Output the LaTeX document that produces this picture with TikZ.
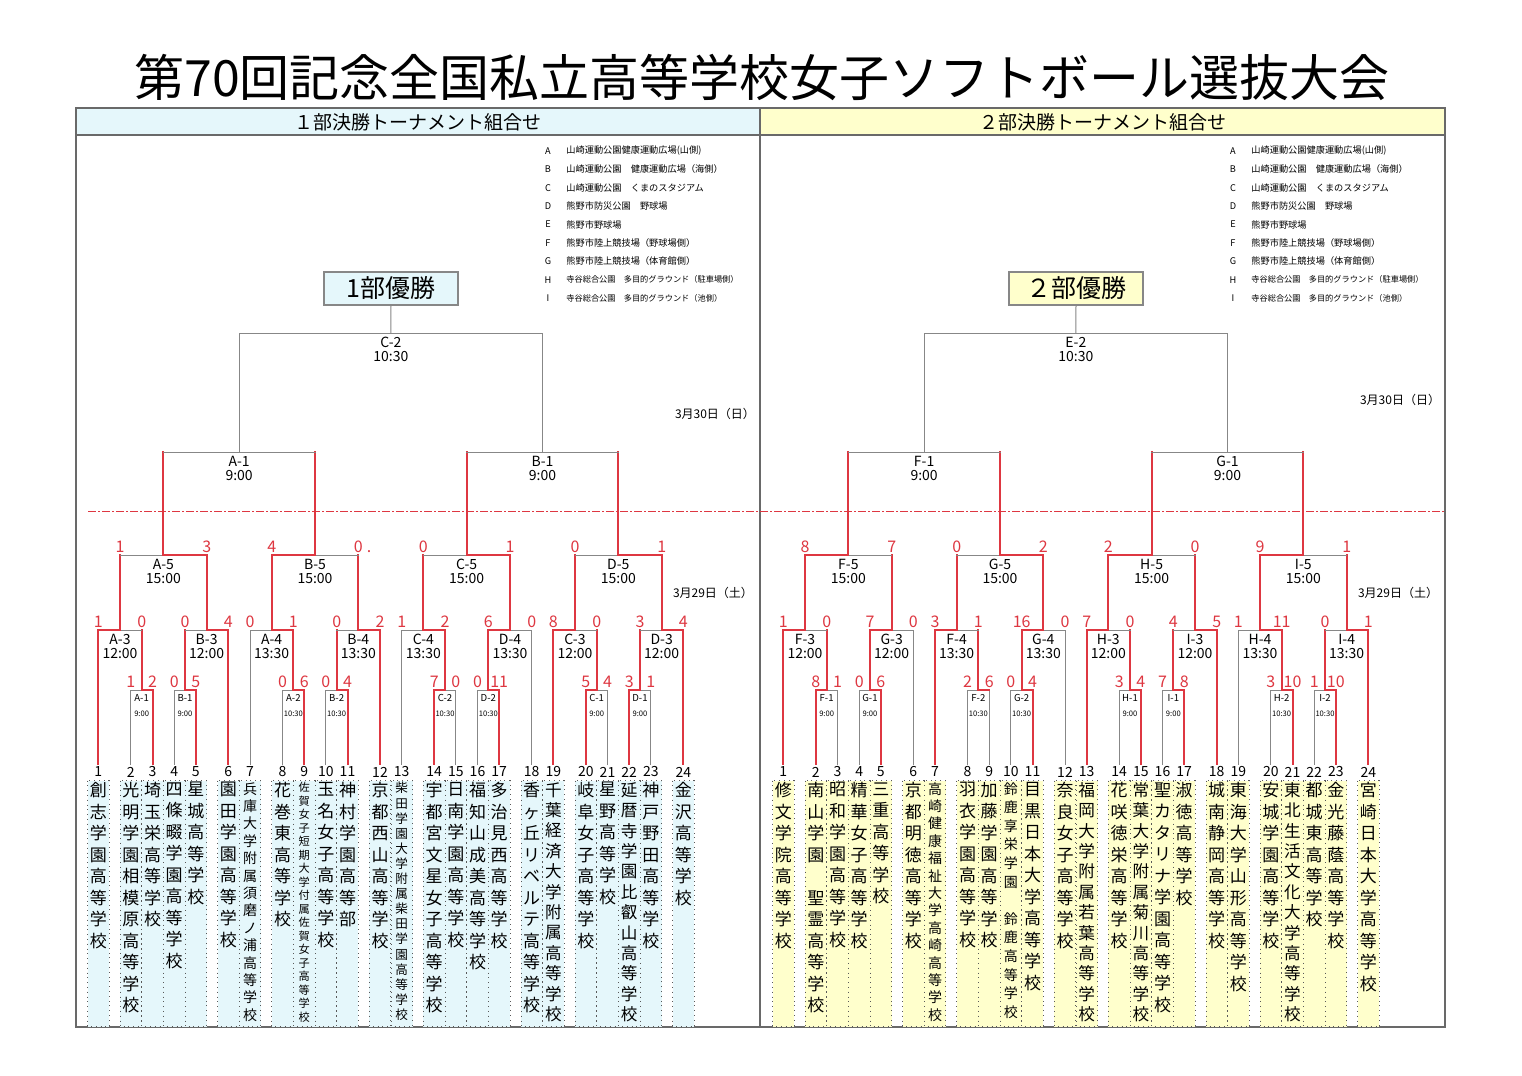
\documentclass[tikz,border=0pt]{standalone}
\usepackage{fontspec}
\setmainfont{Noto Sans CJK JP}
\usetikzlibrary{calc}

\definecolor{winred}{RGB}{222,55,65}
\definecolor{losegray}{RGB}{135,135,135}
\definecolor{framegray}{RGB}{105,105,105}
\definecolor{headblue}{RGB}{229,247,251}
\definecolor{headyellow}{RGB}{255,255,204}
\colorlet{panel}{headblue}

\tikzset{
  win/.style={draw=winred, line width=1pt, line cap=rect},
  lose/.style={draw=losegray, line width=0.5pt, line cap=rect},
  score/.style={text=winred, font=\fontsize{8}{8}\selectfont, inner sep=0pt, anchor=base},
  slot/.style={font=\fontsize{7}{7}\selectfont, inner sep=0pt},
  minislot/.style={font=\fontsize{4.8}{5}\selectfont, inner sep=0pt},
  minitime/.style={font=\fontsize{3.8}{4}\selectfont, inner sep=0pt},
  namebox/.style={draw=black!65, dotted, line width=0.4pt, fill=panel},
  numlbl/.style={font=\fontsize{7}{7}\selectfont, inner sep=0pt},
  head/.style={font=\fontsize{9.5}{10}\selectfont, inner sep=0pt},
  champ/.style={draw=losegray, line width=0.6pt, fill=panel, font=\fontsize{12.5}{13}\selectfont,
    inner sep=0pt, minimum width=67pt, minimum height=16.5pt},
  datelbl/.style={font=\fontsize{6}{6}\selectfont, inner sep=0pt},
}

% vertical school names, one glyph per line
\makeatletter
\newcommand\tate[3]{\fontsize{#1}{#2}\selectfont\vbox{\@tfor\tchr:=#3\do{\hbox to #1pt{\hss\tchr\hss}}}}
\makeatother
\newcommand\teamx[5]{%
  \draw[namebox] (#1-10.8,780.5) rectangle (#1+10.8,1026.5);
  \node[numlbl] (n#2) at (#1,772) {#2};
  \node[inner sep=0pt, anchor=north] (s#2) at (#1,782) {\tate{#3}{#4}{#5}};}
\newcommand\team[3]{\teamx{#1}{#2}{8.5}{10.75}{#3}}

% bracket bar: xl, xr, y, name, time, score l, score r, style l, style r
\newcommand\duel[9]{%
  \draw[#8] (#1,#3) -- ({(#1+#2)/2},#3);
  \draw[#9] ({(#1+#2)/2},#3) -- (#2,#3);
  \node[score] at (#1,#3-2.5) {#6};
  \node[score] at (#2,#3-2.5) {#7};
  \node[slot] at ({(#1+#2)/2},#3+9) {#4};
  \node[slot] at ({(#1+#2)/2},#3+23.5) {#5};}
% first round box at y=690
\newcommand\prelim[8]{%
  \draw[#7] (#1,690) -- ({(#1+#2)/2},690);
  \draw[#8] ({(#1+#2)/2},690) -- (#2,690);
  \node[score] at (#1,687.5) {#5};
  \node[score] at (#2,687.5) {#6};
  \node[minislot] at ({(#1+#2)/2},698) {#3};
  \node[minitime] at ({(#1+#2)/2},714) {#4};}

\newcommand\venues{%
  \foreach \y/\k/\s/\t in {151/A/4.6/山崎運動公園健康運動広場(山側),
      169.4/B/4.6/山崎運動公園　健康運動広場（海側）,
      187.8/C/4.6/山崎運動公園　くまのスタジアム,
      206.2/D/4.6/熊野市防災公園　野球場,
      224.6/E/4.6/熊野市野球場,
      243/F/4.6/熊野市陸上競技場（野球場側）,
      261.4/G/4.6/熊野市陸上競技場（体育館側）,
      279.8/H/4.1/寺谷総合公園　多目的グラウンド（駐車場側）,
      298.2/I/4.1/寺谷総合公園　多目的グラウンド（池側）}{
    \node[font=\fontsize{4.6}{5}\selectfont, inner sep=0pt] at (548,\y) {\k};
    \node[font=\fontsize{\s}{5}\selectfont, inner sep=0pt, anchor=west] at (566,\y) {\t};
  }}

\begin{document}
\begin{tikzpicture}[x=0.5pt,y=-0.5pt]
  \useasboundingbox (0,0) rectangle (1522,1076);
  \fill[white] (0,0) rectangle (1522,1076);

  %%%%% TITLE AND FRAME %%%%%
  \node[font=\fontsize{25}{25}\selectfont, inner sep=0pt] (title) at (762,78) {第70回記念全国私立高等学校女子ソフトボール選抜大会};

  \fill[headblue] (76,108) rectangle (760,135);
  \fill[headyellow] (760,108) rectangle (1445,135);
  \draw[framegray, line width=0.6pt] (76,108) rectangle (1445,1027);
  \draw[framegray, line width=0.6pt] (76,135) -- (1445,135);
  \draw[framegray, line width=0.6pt] (760,108) -- (760,1027);
  \node[head] (head1) at (418,122) {１部決勝トーナメント組合せ};
  \node[head] (head2) at (1103,122) {２部決勝トーナメント組合せ};

  \draw[winred, line width=0.4pt, dash pattern=on 4pt off 1.2pt on 0.6pt off 1.2pt] (88,511) -- (1445,511);

  %%%%% 1部 %%%%%
  \begin{scope}
    \colorlet{panel}{headblue}
    \venues
    \node[datelbl] (day1a) at (715,414) {3月30日（日）};
    \node[datelbl] (day1b) at (713,593) {3月29日（土）};

    % schools
    \team{98.3}{1}{創志学園高等学校}
    \team{130.8}{2}{光明学園相模原高等学校}
    \team{152.5}{3}{埼玉栄高等学校}
    \team{174.2}{4}{四條畷学園高等学校}
    \team{195.8}{5}{星城高等学校}
    \team{228.3}{6}{園田学園高等学校}
    \teamx{250.0}{7}{7}{8.7}{兵庫大学附属須磨ノ浦高等学校}
    \team{282.5}{8}{花巻東高等学校}
    \teamx{304.2}{9}{5.6}{6.75}{佐賀女子短期大学付属佐賀女子高等学校}
    \team{325.8}{10}{玉名女子高等学校}
    \team{347.5}{11}{神村学園高等部}
    \team{380.0}{12}{京都西山高等学校}
    \teamx{401.7}{13}{6.3}{7.55}{柴田学園大学附属柴田学園高等学校}
    \team{434.2}{14}{宇都宮文星女子高等学校}
    \team{455.8}{15}{日南学園高等学校}
    \team{477.5}{16}{福知山成美高等学校}
    \team{499.2}{17}{多治見西高等学校}
    \team{531.7}{18}{香ヶ丘リベルテ高等学校}
    \teamx{553.3}{19}{8.3}{10.2}{千葉経済大学附属高等学校}
    \team{585.8}{20}{岐阜女子高等学校}
    \team{607.5}{21}{星野高等学校}
    \teamx{629.2}{22}{8.3}{10.2}{延暦寺学園比叡山高等学校}
    \team{650.8}{23}{神戸野田高等学校}
    \team{683.3}{24}{金沢高等学校}

    % leaves
    \draw[win] (98.3,764) -- (98.3,630);
    \draw[lose] (130.8,764) -- (130.8,690);
    \draw[win] (152.5,764) -- (152.5,690);
    \draw[lose] (174.2,764) -- (174.2,690);
    \draw[win] (195.8,764) -- (195.8,690);
    \draw[win] (228.3,764) -- (228.3,630);
    \draw[lose] (250.0,764) -- (250.0,630);
    \draw[lose] (282.5,764) -- (282.5,690);
    \draw[win] (304.2,764) -- (304.2,690);
    \draw[lose] (325.8,764) -- (325.8,690);
    \draw[win] (347.5,764) -- (347.5,690);
    \draw[win] (380.0,764) -- (380.0,630);
    \draw[lose] (401.7,764) -- (401.7,630);
    \draw[win] (434.2,764) -- (434.2,690);
    \draw[lose] (455.8,764) -- (455.8,690);
    \draw[lose] (477.5,764) -- (477.5,690);
    \draw[win] (499.2,764) -- (499.2,690);
    \draw[lose] (531.7,764) -- (531.7,630);
    \draw[win] (553.3,764) -- (553.3,630);
    \draw[win] (585.8,764) -- (585.8,690);
    \draw[lose] (607.5,764) -- (607.5,690);
    \draw[win] (629.2,764) -- (629.2,690);
    \draw[lose] (650.8,764) -- (650.8,690);
    \draw[win] (683.3,764) -- (683.3,630);

    % first round
    \prelim{130.8}{152.5}{A-1}{9:00}{1}{2}{lose}{win}
    \prelim{174.2}{195.8}{B-1}{9:00}{0}{5}{lose}{win}
    \prelim{282.5}{304.2}{A-2}{10:30}{0}{6}{lose}{win}
    \prelim{325.8}{347.5}{B-2}{10:30}{0}{4}{lose}{win}
    \prelim{434.2}{455.8}{C-2}{10:30}{7}{0}{win}{lose}
    \prelim{477.5}{499.2}{D-2}{10:30}{0}{11}{lose}{win}
    \prelim{585.8}{607.5}{C-1}{9:00}{5}{4}{win}{lose}
    \prelim{629.2}{650.8}{D-1}{9:00}{3}{1}{win}{lose}
    \draw[win] (141.7,690) -- (141.7,630);
    \draw[win] (185.0,690) -- (185.0,630);
    \draw[win] (293.3,690) -- (293.3,630);
    \draw[win] (336.7,690) -- (336.7,630);
    \draw[win] (445.0,690) -- (445.0,630);
    \draw[win] (488.3,690) -- (488.3,630);
    \draw[win] (596.7,690) -- (596.7,630);
    \draw[win] (640.0,690) -- (640.0,630);

    % second round
    \duel{98.3}{141.7}{630}{A-3}{12:00}{1}{0}{win}{lose}
    \duel{185.0}{228.3}{630}{B-3}{12:00}{0}{4}{lose}{win}
    \duel{250.0}{293.3}{630}{A-4}{13:30}{0}{1}{lose}{win}
    \duel{336.7}{380.0}{630}{B-4}{13:30}{0}{2}{lose}{win}
    \duel{401.7}{445.0}{630}{C-4}{13:30}{1}{2}{lose}{win}
    \duel{488.3}{531.7}{630}{D-4}{13:30}{6}{0}{win}{lose}
    \duel{553.3}{596.7}{630}{C-3}{12:00}{8}{0}{win}{lose}
    \duel{640.0}{683.3}{630}{D-3}{12:00}{3}{4}{lose}{win}
    \draw[win] (120.0,630) -- (120.0,555);
    \draw[win] (206.7,630) -- (206.7,555);
    \draw[win] (271.7,630) -- (271.7,555);
    \draw[win] (358.3,630) -- (358.3,555);
    \draw[win] (423.3,630) -- (423.3,555);
    \draw[win] (510.0,630) -- (510.0,555);
    \draw[win] (575.0,630) -- (575.0,555);
    \draw[win] (661.7,630) -- (661.7,555);

    % third round
    \duel{120.0}{206.7}{555}{A-5}{15:00}{1}{3}{lose}{win}
    \duel{271.7}{358.3}{555}{B-5}{15:00}{4}{0}{win}{lose}
    \node[score] at (369,552.5) {.};
    \duel{423.3}{510.0}{555}{C-5}{15:00}{0}{1}{lose}{win}
    \duel{575.0}{661.7}{555}{D-5}{15:00}{0}{1}{lose}{win}
    \draw[win] (163.3,555) -- (163.3,452);
    \draw[win] (315.0,555) -- (315.0,452);
    \draw[win] (466.7,555) -- (466.7,452);
    \draw[win] (618.3,555) -- (618.3,452);

    % second day
    \duel{163.3}{315.0}{452}{A-1}{9:00}{}{}{lose}{lose}
    \duel{466.7}{618.3}{452}{B-1}{9:00}{}{}{lose}{lose}
    \draw[lose] (239.2,452) -- (239.2,333);
    \draw[lose] (542.5,452) -- (542.5,333);
    \duel{239.2}{542.5}{333}{C-2}{10:30}{}{}{lose}{lose}
    \node[champ] (cup1) at (391,288.5) {1部優勝};
    \draw[lose] (390.8,333) -- (cup1.south);
  \end{scope}

  %%%%% 2部 %%%%%
  \begin{scope}[shift={(685,0)}]
    \colorlet{panel}{headyellow}
    \venues
    \node[datelbl] (day2a) at (715,400) {3月30日（日）};
    \node[datelbl] (day2b) at (713,593) {3月29日（土）};

    % schools
    \team{98.3}{1}{修文学院高等学校}
    \team{130.8}{2}{南山学園{}聖霊高等学校}
    \team{152.5}{3}{昭和学園高等学校}
    \team{174.2}{4}{精華女子高等学校}
    \team{195.8}{5}{三重高等学校}
    \team{228.3}{6}{京都明徳高等学校}
    \teamx{250.0}{7}{7}{8.7}{高崎健康福祉大学高崎高等学校}
    \team{282.5}{8}{羽衣学園高等学校}
    \team{304.2}{9}{加藤学園高等学校}
    \teamx{325.8}{10}{7}{9.3}{鈴鹿享栄学園{}鈴鹿高等学校}
    \team{347.5}{11}{目黒日本大学高等学校}
    \team{380.0}{12}{奈良女子高等学校}
    \teamx{401.7}{13}{8.3}{10.2}{福岡大学附属若葉高等学校}
    \team{434.2}{14}{花咲徳栄高等学校}
    \teamx{455.8}{15}{8.3}{10.2}{常葉大学附属菊川高等学校}
    \team{477.5}{16}{聖カタリナ学園高等学校}
    \team{499.2}{17}{淑徳高等学校}
    \team{531.7}{18}{城南静岡高等学校}
    \team{553.3}{19}{東海大学山形高等学校}
    \team{585.8}{20}{安城学園高等学校}
    \teamx{607.5}{21}{8.3}{10.2}{東北生活文化大学高等学校}
    \team{629.2}{22}{都城東高等学校}
    \team{650.8}{23}{金光藤蔭高等学校}
    \team{683.3}{24}{宮崎日本大学高等学校}

    % leaves
    \draw[win] (98.3,764) -- (98.3,630);
    \draw[win] (130.8,764) -- (130.8,690);
    \draw[lose] (152.5,764) -- (152.5,690);
    \draw[lose] (174.2,764) -- (174.2,690);
    \draw[win] (195.8,764) -- (195.8,690);
    \draw[lose] (228.3,764) -- (228.3,630);
    \draw[win] (250.0,764) -- (250.0,630);
    \draw[lose] (282.5,764) -- (282.5,690);
    \draw[lose] (304.2,764) -- (304.2,690);
    \draw[lose] (325.8,764) -- (325.8,690);
    \draw[win] (347.5,764) -- (347.5,690);
    \draw[lose] (380.0,764) -- (380.0,630);
    \draw[win] (401.7,764) -- (401.7,630);
    \draw[lose] (434.2,764) -- (434.2,690);
    \draw[win] (455.8,764) -- (455.8,690);
    \draw[lose] (477.5,764) -- (477.5,690);
    \draw[win] (499.2,764) -- (499.2,690);
    \draw[win] (531.7,764) -- (531.7,630);
    \draw[lose] (553.3,764) -- (553.3,630);
    \draw[lose] (585.8,764) -- (585.8,690);
    \draw[win] (607.5,764) -- (607.5,690);
    \draw[lose] (629.2,764) -- (629.2,690);
    \draw[win] (650.8,764) -- (650.8,690);
    \draw[win] (683.3,764) -- (683.3,630);

    % first round
    \prelim{130.8}{152.5}{F-1}{9:00}{8}{1}{win}{lose}
    \prelim{174.2}{195.8}{G-1}{9:00}{0}{6}{lose}{win}
    \prelim{282.5}{304.2}{F-2}{10:30}{2}{6}{lose}{win}
    \prelim{325.8}{347.5}{G-2}{10:30}{0}{4}{lose}{win}
    \prelim{434.2}{455.8}{H-1}{9:00}{3}{4}{lose}{win}
    \prelim{477.5}{499.2}{I-1}{9:00}{7}{8}{lose}{win}
    \prelim{585.8}{607.5}{H-2}{10:30}{3}{10}{lose}{win}
    \prelim{629.2}{650.8}{I-2}{10:30}{1}{10}{lose}{win}
    \draw[win] (141.7,690) -- (141.7,630);
    \draw[win] (185.0,690) -- (185.0,630);
    \draw[win] (293.3,690) -- (293.3,630);
    \draw[win] (336.7,690) -- (336.7,630);
    \draw[win] (445.0,690) -- (445.0,630);
    \draw[win] (488.3,690) -- (488.3,630);
    \draw[win] (596.7,690) -- (596.7,630);
    \draw[win] (640.0,690) -- (640.0,630);

    % second round
    \duel{98.3}{141.7}{630}{F-3}{12:00}{1}{0}{win}{lose}
    \duel{185.0}{228.3}{630}{G-3}{12:00}{7}{0}{win}{lose}
    \duel{250.0}{293.3}{630}{F-4}{13:30}{3}{1}{win}{lose}
    \duel{336.7}{380.0}{630}{G-4}{13:30}{16}{0}{win}{lose}
    \duel{401.7}{445.0}{630}{H-3}{12:00}{7}{0}{win}{lose}
    \duel{488.3}{531.7}{630}{I-3}{12:00}{4}{5}{lose}{win}
    \duel{553.3}{596.7}{630}{H-4}{13:30}{1}{11}{lose}{win}
    \duel{640.0}{683.3}{630}{I-4}{13:30}{0}{1}{lose}{win}
    \draw[win] (120.0,630) -- (120.0,555);
    \draw[win] (206.7,630) -- (206.7,555);
    \draw[win] (271.7,630) -- (271.7,555);
    \draw[win] (358.3,630) -- (358.3,555);
    \draw[win] (423.3,630) -- (423.3,555);
    \draw[win] (510.0,630) -- (510.0,555);
    \draw[win] (575.0,630) -- (575.0,555);
    \draw[win] (661.7,630) -- (661.7,555);

    % third round
    \duel{120.0}{206.7}{555}{F-5}{15:00}{8}{7}{win}{lose}
    \duel{271.7}{358.3}{555}{G-5}{15:00}{0}{2}{lose}{win}
    \duel{423.3}{510.0}{555}{H-5}{15:00}{2}{0}{win}{lose}
    \duel{575.0}{661.7}{555}{I-5}{15:00}{9}{1}{win}{lose}
    \draw[win] (163.3,555) -- (163.3,452);
    \draw[win] (315.0,555) -- (315.0,452);
    \draw[win] (466.7,555) -- (466.7,452);
    \draw[win] (618.3,555) -- (618.3,452);

    % second day
    \duel{163.3}{315.0}{452}{F-1}{9:00}{}{}{lose}{lose}
    \duel{466.7}{618.3}{452}{G-1}{9:00}{}{}{lose}{lose}
    \draw[lose] (239.2,452) -- (239.2,333);
    \draw[lose] (542.5,452) -- (542.5,333);
    \duel{239.2}{542.5}{333}{E-2}{10:30}{}{}{lose}{lose}
    \node[champ] (cup2) at (391,288.5) {２部優勝};
    \draw[lose] (390.8,333) -- (cup2.south);
  \end{scope}
\end{tikzpicture}
\end{document}
